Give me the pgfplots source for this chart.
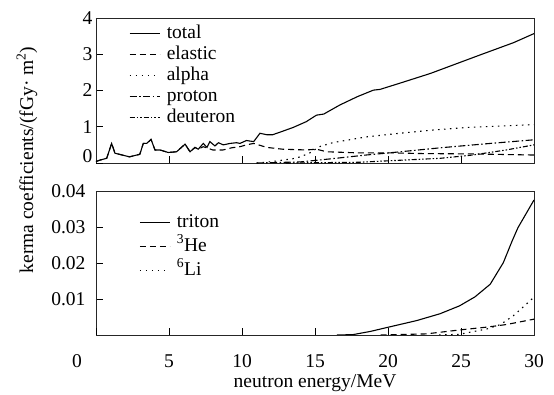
\documentclass[border=0pt]{standalone}
\usepackage{fontspec}
\setmainfont{Liberation Serif}
\usepackage{pgfplots}
\pgfplotsset{compat=1.18}
\begin{document}
\begin{tikzpicture}[font=\fontsize{19.5}{23}\selectfont]
\pgfplotsset{
  base/.style={
    width=438pt, height=145pt, scale only axis,
    xmin=0, xmax=30,
    axis line style={line width=0.8pt, black!85},
    tick align=inside, tick pos=left,
    major tick length=7pt,
    tick style={black, line width=0.8pt},
    scaled y ticks=false,
    /pgf/number format/assume math mode=true,
    cycle list={{black, solid}},
    no marks,
    legend cell align=left,
    legend style={draw=none, fill=none, font=\fontsize{19.5}{23}\selectfont, column sep=3pt,
      nodes={inner ysep=1pt, inner xsep=3.5pt, text height=13pt, text depth=4pt}},
    legend image code/.code={\draw[##1] (0pt,0pt) -- (30pt,0pt);},
    every axis plot/.append style={line width=1.1pt, black},
  },
  dashedA/.style={dash pattern=on 6pt off 4pt},
  dottedA/.style={dash pattern=on 1.5pt off 4.5pt},
  dashdotA/.style={dash pattern=on 7pt off 2.5pt on 1.5pt off 2.5pt},
  dashdotdotA/.style={dash pattern=on 5pt off 2pt on 1.5pt off 2pt on 1.5pt off 2pt},
}
\begin{axis}[base, at={(0,0)}, anchor=south west,
  ymin=0, ymax=4, ytick={1,2,3,4},
  extra y ticks={0}, extra y tick style={yticklabel style={yshift=7pt}},
  xtick={5,10,...,25}, xticklabels={},
  legend style={at={(rel axis cs:0,1)}, anchor=north west, xshift=30pt, yshift=-4pt, row sep=2pt}]
\addplot[black, solid] coordinates {(0,0.04)(0.27,0.08)(0.73,0.13)(1.07,0.54)(1.3,0.27)(2.3,0.17)(3.0,0.24)(3.24,0.54)(3.47,0.54)(3.77,0.65)(4.04,0.36)(4.38,0.36)(4.95,0.29)(5.52,0.31)(6.1,0.52)(6.44,0.31)(6.78,0.43)(7.0,0.38)(7.35,0.54)(7.6,0.43)(7.8,0.59)(8.15,0.47)(8.38,0.56)(8.72,0.50)(9.18,0.54)(9.63,0.56)(9.86,0.54)(10.3,0.62)(10.8,0.59)(11.23,0.82)(11.7,0.78)(12.1,0.78)(12.6,0.85)(13.5,0.98)(14.4,1.14)(15.1,1.32)(15.6,1.35)(16.7,1.6)(17.9,1.83)(19.0,2.01)(19.45,2.03)(20.8,2.2)(22.9,2.47)(26.3,2.98)(28.6,3.32)(30,3.57)};
\addplot[black, dashedA] coordinates {(0,0.04)(0.27,0.08)(0.73,0.13)(1.07,0.54)(1.3,0.27)(2.3,0.17)(3.0,0.24)(3.24,0.54)(3.47,0.54)(3.77,0.65)(4.04,0.36)(4.38,0.36)(4.95,0.29)(5.52,0.31)(6.1,0.52)(6.44,0.31)(6.78,0.43)(7.0,0.38)(7.35,0.45)(8.0,0.36)(8.7,0.36)(9.3,0.42)(9.86,0.45)(10.3,0.5)(10.8,0.54)(11.7,0.43)(12.8,0.38)(14.4,0.36)(15.1,0.38)(15.8,0.31)(17.9,0.28)(20.1,0.28)(22.4,0.26)(25.8,0.25)(30,0.22)};
\addplot[black, dottedA] coordinates {(11.0,0)(12.1,0.04)(13.5,0.12)(14.0,0.17)(14.65,0.28)(15.3,0.45)(16.2,0.56)(18.5,0.72)(20.8,0.82)(23.1,0.91)(25.4,0.98)(27.7,1.02)(30,1.06)};
\addplot[black, dashdotA] coordinates {(11,0)(14,0.03)(16.2,0.12)(18.5,0.22)(20.1,0.28)(23.6,0.42)(27,0.54)(30,0.64)};
\addplot[black, dashdotdotA] coordinates {(13,0)(18,0.02)(20,0.06)(23.6,0.13)(25.8,0.22)(28.1,0.36)(30,0.5)};
\legend{total, elastic, alpha, proton, deuteron}
\end{axis}
\begin{axis}[base, at={(0,-28pt)}, anchor=north west, height=144pt,
  ymin=0, ymax=0.04, ytick={0.01,0.02,0.03,0.04},
  yticklabels={0.01,0.02,0.03,0.04}, yticklabel style={xshift=-7pt},
  xtick={5,10,...,30}, xticklabel style={yshift=-16pt},
  extra x ticks={0}, extra x tick labels={0},
  extra x tick style={xticklabel style={xshift=-19pt}},
  legend style={at={(rel axis cs:0,1)}, anchor=north west, xshift=40pt, yshift=-20pt, row sep=5pt}]
\addplot[black, solid] coordinates {(16.5,0)(17.6,0.0001)(18.8,0.001)(19.95,0.0021)(21.96,0.004)(23.56,0.0059)(24.9,0.0081)(25.96,0.0106)(27.0,0.0141)(27.9,0.0201)(28.5,0.0261)(28.9,0.0298)(30,0.0375)};
\addplot[black, dashedA] coordinates {(19.5,0)(22.6,0.0003)(24.9,0.0014)(26.8,0.0022)(28.1,0.0029)(30,0.0044)};
\addplot[black, dottedA] coordinates {(23.5,0)(24.9,0.0002)(26.8,0.0017)(27.7,0.0029)(28.6,0.0054)(30,0.0105)};
\legend{triton, \textsuperscript{3}He, \textsuperscript{6}Li}
\end{axis}
\node[rotate=90] at (-69pt,3pt) {kerma coefficients/(fGy· m\textsuperscript{2})};
\node at (219pt,-220pt) {neutron energy/MeV};
\path (-96pt,163pt) rectangle (458pt,-231pt);
\end{tikzpicture}
\end{document}
